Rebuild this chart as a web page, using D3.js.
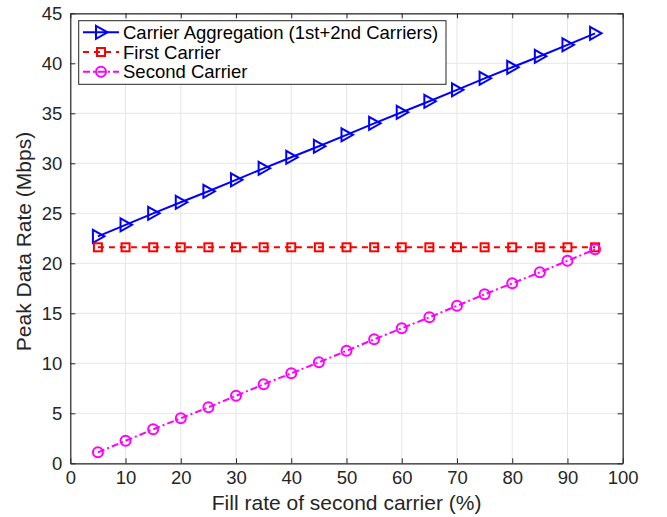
<!DOCTYPE html>
<html><head><meta charset="utf-8">
<script src="https://cdn.jsdelivr.net/npm/d3@7"></script>
<style>body{margin:0;background:#fff}svg{display:block}text{font-family:"Liberation Sans",Arial,sans-serif}</style>
</head><body><svg id="c" width="667" height="517"></svg>
<script>
const fillRate = [5,10,15,20,25,30,35,40,45,50,55,60,65,70,75,80,85,90,95];
const aggregation = [22.7,23.85,25.0,26.1,27.2,28.35,29.5,30.6,31.7,32.85,34.0,35.1,36.2,37.35,38.5,39.6,40.7,41.85,43.0];
const firstCarrier = [21.6,21.6,21.6,21.6,21.6,21.6,21.6,21.6,21.6,21.6,21.6,21.6,21.6,21.6,21.6,21.6,21.6,21.6,21.6];
const secondCarrier = [1.1,2.25,3.4,4.5,5.6,6.75,7.9,9.0,10.1,11.25,12.4,13.5,14.6,15.75,16.9,18.0,19.1,20.25,21.4];
const xTicks = [0,10,20,30,40,50,60,70,80,90,100];
const yTicks = [0,5,10,15,20,25,30,35,40,45];
const seriesNames = ["Carrier Aggregation (1st+2nd Carriers)","First Carrier","Second Carrier"];

const svg = d3.select("#c");
const L=70.3, R=622.7, T=13.3, B=463.3;
const x = d3.scaleLinear().domain([0,100]).range([L,R]);
const y = d3.scaleLinear().domain([0,45]).range([B,T]);
const axisColor="#262626";

// grid
const g = svg.append("g");
g.selectAll(".gx").data(xTicks).join("line").attr("x1",d=>x(d)).attr("x2",d=>x(d)).attr("y1",T).attr("y2",B).attr("stroke","#e6e6e6").attr("stroke-width",1);
g.selectAll(".gy").data(yTicks).join("line").attr("x1",L).attr("x2",R).attr("y1",d=>y(d)).attr("y2",d=>y(d)).attr("stroke","#e6e6e6").attr("stroke-width",1);

// axes
function styleAxis(sel){sel.select(".domain").attr("stroke",axisColor).attr("stroke-width",1.2);sel.selectAll(".tick line").attr("stroke",axisColor);sel.selectAll(".tick text").attr("fill",axisColor).style("font-size","18.5px");}
const xb = svg.append("g").attr("transform",`translate(0,${B})`).call(d3.axisBottom(x).tickValues(xTicks).tickSizeInner(-5).tickSizeOuter(0).tickPadding(8));
styleAxis(xb);
const xt = svg.append("g").attr("transform",`translate(0,${T})`).call(d3.axisTop(x).tickValues(xTicks).tickSizeInner(-5).tickSizeOuter(0).tickFormat(""));
styleAxis(xt);
const yl = svg.append("g").attr("transform",`translate(${L},0)`).call(d3.axisLeft(y).tickValues(yTicks).tickSizeInner(-5).tickSizeOuter(0).tickPadding(8));
styleAxis(yl);
const yr = svg.append("g").attr("transform",`translate(${R},0)`).call(d3.axisRight(y).tickValues(yTicks).tickSizeInner(-5).tickSizeOuter(0).tickFormat(""));
styleAxis(yr);

// axis labels
svg.append("text").attr("x",346.6).attr("y",509.7).attr("text-anchor","middle").attr("fill",axisColor).style("font-size","21px").text("Fill rate of second carrier (%)");
svg.append("text").attr("transform",`translate(31,241.5) rotate(-90)`).attr("text-anchor","middle").attr("fill",axisColor).style("font-size","21px").text("Peak Data Rate (Mbps)");

// series
const blue="#0000ff", red="#ff0000", mag="#ff00ff";
const tri = "M-5,-6.5L6.5,0L-5,6.5Z";
function drawSeries(vals,color,dash,marker){
  const line=d3.line().x((d,i)=>x(fillRate[i])).y(d=>y(d));
  svg.append("path").datum(vals).attr("d",line).attr("fill","none").attr("stroke",color).attr("stroke-width",2).attr("stroke-dasharray",dash);
  const m=svg.append("g").selectAll("g").data(vals).join("g").attr("transform",(d,i)=>`translate(${x(fillRate[i])},${y(d)})`);
  marker(m,color);
}
function triM(sel,c){sel.append("path").attr("d",tri).attr("fill","none").attr("stroke",c).attr("stroke-width",2);}
function sqM(sel,c){sel.append("rect").attr("x",-4).attr("y",-4).attr("width",8).attr("height",8).attr("fill","none").attr("stroke",c).attr("stroke-width",2);}
function ciM(sel,c){sel.append("circle").attr("r",5).attr("fill","none").attr("stroke",c).attr("stroke-width",2);}
drawSeries(aggregation,blue,null,triM);
drawSeries(firstCarrier,red,"6,5",sqM);
drawSeries(secondCarrier,mag,"7,3,2,3",ciM);

// legend
const lg = svg.append("g");
lg.append("rect").attr("x",78.7).attr("y",20.7).attr("width",367.3).attr("height",63.6).attr("fill","#fff").attr("stroke",axisColor).attr("stroke-width",1);
const ly=[32.3,52,71.7], cols=[blue,red,mag], dashes=[null,"6,5","7,3,2,3"], marks=[triM,sqM,ciM];
seriesNames.forEach((n,i)=>{
  lg.append("line").attr("x1",83).attr("x2",119).attr("y1",ly[i]).attr("y2",ly[i]).attr("stroke",cols[i]).attr("stroke-width",2).attr("stroke-dasharray",dashes[i]);
  const mg=lg.append("g").attr("transform",`translate(101,${ly[i]})`);
  marks[i](mg,cols[i]);
  lg.append("text").attr("x",123).attr("y",ly[i]).attr("dy","0.36em").attr("fill","#000").style("font-size","18.5px").text(n);
});
</script></body></html>
